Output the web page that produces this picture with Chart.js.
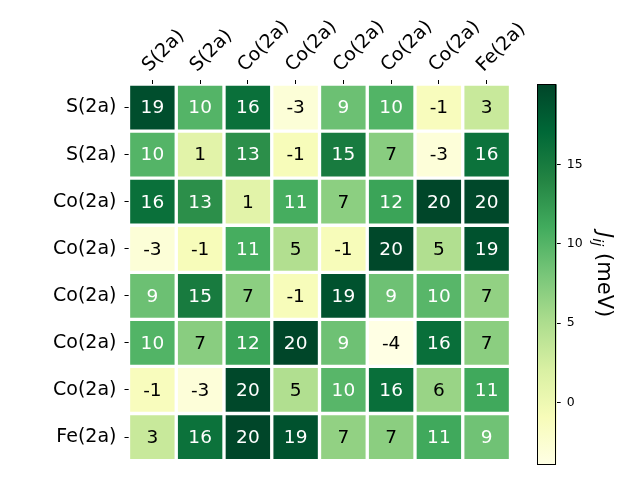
<!DOCTYPE html>
<html>
<head>
<meta charset="utf-8">
<script src="https://cdn.jsdelivr.net/npm/chart.js@4.4.0/dist/chart.umd.min.js"></script>
<style>
  html, body { margin: 0; padding: 0; background: #ffffff; }
  #wrap { position: relative; width: 640px; height: 480px; }
  canvas { position: absolute; left: 0; top: 0; }
</style>
</head>
<body>
<div id="wrap">
  <canvas id="heat" width="640" height="480"></canvas>
  <canvas id="cbar" width="640" height="480"></canvas>
</div>
<script>
// --- data ---
const colLabels = ['S(2a)', 'S(2a)', 'Co(2a)', 'Co(2a)', 'Co(2a)', 'Co(2a)', 'Co(2a)', 'Fe(2a)'];
const rowLabels = ['S(2a)', 'S(2a)', 'Co(2a)', 'Co(2a)', 'Co(2a)', 'Co(2a)', 'Co(2a)', 'Fe(2a)'];

// exchange couplings J_ij in meV, one row per site
const jMatrix = [
  [19.3, 10.0, 16.2, -3.0,  8.7, 10.1, -1.2,  3.2],
  [10.0,  1.2, 13.2, -1.0, 15.0,  7.1, -3.1, 16.0],
  [16.2, 13.2,  1.2, 10.8,  6.9, 11.6, 20.0, 19.8],
  [-3.0, -1.0, 10.8,  4.7, -1.0, 19.8,  4.8, 18.9],
  [ 8.7, 15.0,  6.9, -1.0, 18.9,  8.6,  9.8,  6.6],
  [10.1,  7.1, 11.6, 20.0,  8.6, -3.9, 16.3,  7.0],
  [-1.2, -3.1, 19.8,  4.8,  9.8, 16.3,  6.2, 11.2],
  [ 3.2, 16.0, 20.0, 18.9,  6.6,  7.0, 11.2,  8.5]
];

const cbarTicks = [0, 5, 10, 15];
const vMin = -3.95;
const vMax = 20.05;

// YlGn colour stops (matplotlib / ColorBrewer)
const ylgnStops = ['#ffffe5', '#f7fcb9', '#d9f0a3', '#addd8e', '#78c679', '#41ab5d', '#238443', '#006837', '#004529'];

Chart.defaults.font.family = '"DejaVu Sans"';
Chart.defaults.color = '#000000';

function norm(v) {
  return Math.min(1, Math.max(0, (v - vMin) / (vMax - vMin)));
}

function hexToRgb(h) {
  return [parseInt(h.slice(1, 3), 16), parseInt(h.slice(3, 5), 16), parseInt(h.slice(5, 7), 16)];
}

function ylgn(t) {
  const n = ylgnStops.length - 1;
  const pos = t * n;
  const i = Math.min(n - 1, Math.floor(pos));
  const f = pos - i;
  const a = hexToRgb(ylgnStops[i]);
  const b = hexToRgb(ylgnStops[i + 1]);
  const c = a.map((x, k) => Math.round(x + (b[k] - x) * f));
  return 'rgb(' + c.join(',') + ')';
}

// numbers inside the cells + rotated column labels on top
const heatText = {
  id: 'heatText',
  afterDatasetsDraw(chart) {
    const ctx = chart.ctx;
    ctx.save();
    ctx.font = '18.5px "DejaVu Sans"';
    ctx.textAlign = 'center';
    ctx.textBaseline = 'middle';
    jMatrix.forEach((row, r) => {
      const meta = chart.getDatasetMeta(r);
      meta.data.forEach((bar, c) => {
        const v = row[c];
        ctx.fillStyle = norm(v) > 0.5 ? '#ffffff' : '#000000';
        ctx.fillText(String(Math.round(v)), bar.x, (bar.y + bar.base) / 2 + 1);
      });
    });
    ctx.restore();
  },
  afterDraw(chart) {
    const xs = chart.scales.x;
    const ctx = chart.ctx;
    const size = 19;
    ctx.save();
    ctx.font = size + 'px "DejaVu Sans"';
    ctx.fillStyle = '#000000';
    ctx.textAlign = 'left';
    ctx.textBaseline = 'alphabetic';
    colLabels.forEach((lab, i) => {
      ctx.save();
      ctx.translate(xs.getPixelForTick(i), chart.chartArea.top - 8.5);
      ctx.rotate(-Math.PI / 4);
      ctx.fillText(lab, 0, -0.236 * size);
      ctx.restore();
    });
    ctx.restore();
  }
};

// heatmap: each row is a stack of unit bars, coloured by value
const heatSets = jMatrix.map((row, r) => ({
  label: rowLabels[r],
  data: row.map(() => 1),
  backgroundColor: row.map(v => ylgn(norm(v))),
  borderColor: '#ffffff',
  borderWidth: 2,
  borderSkipped: false,
  categoryPercentage: 1,
  barPercentage: 1
}));

new Chart(document.getElementById('heat'), {
  type: 'bar',
  data: { labels: colLabels, datasets: heatSets },
  options: {
    responsive: false,
    animation: false,
    events: [],
    layout: { padding: { left: 0, top: 0, right: 129.5, bottom: 14.5 } },
    plugins: { legend: { display: false }, tooltip: { enabled: false } },
    scales: {
      x: {
        position: 'top',
        stacked: true,
        offset: true,
        border: { display: false },
        grid: { offset: false, drawOnChartArea: false, tickLength: 4, tickColor: '#000000', tickWidth: 1 },
        ticks: { display: false, autoSkip: false },
        afterFit(s) { s.height = 84; }
      },
      y: {
        type: 'linear',
        reverse: true,
        min: 0,
        max: 8,
        stacked: true,
        border: { display: false },
        grid: { drawOnChartArea: false, tickLength: 4, tickColor: '#000000', tickWidth: 1 },
        afterBuildTicks(s) { s.ticks = rowLabels.map((_, i) => ({ value: i + 0.5 })); },
        ticks: { padding: 8, color: '#000000', font: { size: 19 }, callback: (v, i) => rowLabels[i] },
        afterFit(s) { s.width = 128.5; }
      }
    }
  },
  plugins: [heatText]
});

// colorbar
const cbarDecor = {
  id: 'cbarDecor',
  afterDraw(chart) {
    const a = chart.chartArea;
    const ctx = chart.ctx;
    ctx.save();
    ctx.strokeStyle = '#000000';
    ctx.lineWidth = 1;
    ctx.strokeRect(Math.round(a.left) + 0.5, Math.round(a.top) + 0.5,
      Math.round(a.right - a.left) - 1, Math.round(a.bottom - a.top) - 1);

    // axis label J_ij (meV), read top to bottom
    const size = 21;
    ctx.translate(598, (a.top + a.bottom) / 2);
    ctx.rotate(Math.PI / 2);
    ctx.fillStyle = '#000000';
    ctx.textBaseline = 'alphabetic';
    ctx.textAlign = 'left';
    const fMain = 'italic ' + size + 'px "DejaVu Sans"';
    const fSub = 'italic ' + (size * 0.7) + 'px "DejaVu Sans"';
    const fText = size + 'px "DejaVu Sans"';
    ctx.font = fMain; const wJ = ctx.measureText('J').width;
    ctx.font = fSub; const wSub = ctx.measureText('ij').width;
    ctx.font = fText; const wRest = ctx.measureText(' (meV)').width;
    let x = -(wJ + wSub + wRest) / 2;
    ctx.font = fMain; ctx.fillText('J', x, 0); x += wJ;
    ctx.font = fSub; ctx.fillText('ij', x, size * 0.22); x += wSub;
    ctx.font = fText; ctx.fillText(' (meV)', x, 0);
    ctx.restore();
  }
};

new Chart(document.getElementById('cbar'), {
  type: 'bar',
  data: {
    labels: [''],
    datasets: [{
      data: [[vMin, vMax]],
      borderWidth: 0,
      categoryPercentage: 1,
      barPercentage: 1,
      backgroundColor(c) {
        const area = c.chart.chartArea;
        if (!area) return ylgnStops[4];
        const g = c.chart.ctx.createLinearGradient(0, area.bottom, 0, area.top);
        ylgnStops.forEach((col, i) => g.addColorStop(i / (ylgnStops.length - 1), col));
        return g;
      }
    }]
  },
  options: {
    responsive: false,
    animation: false,
    events: [],
    layout: { padding: { left: 537.3, top: 84.3, right: 0, bottom: 15 } },
    plugins: { legend: { display: false }, tooltip: { enabled: false } },
    scales: {
      x: { display: false },
      y: {
        position: 'right',
        min: vMin,
        max: vMax,
        border: { display: false },
        grid: { drawOnChartArea: false, tickLength: 4, tickColor: '#000000', tickWidth: 1 },
        afterBuildTicks(s) { s.ticks = cbarTicks.map(v => ({ value: v })); },
        ticks: { padding: 6, color: '#000000', font: { size: 12.5 } },
        afterFit(s) { s.width = 640 - 556.7; }
      }
    }
  },
  plugins: [cbarDecor]
});
</script>
</body>
</html>
